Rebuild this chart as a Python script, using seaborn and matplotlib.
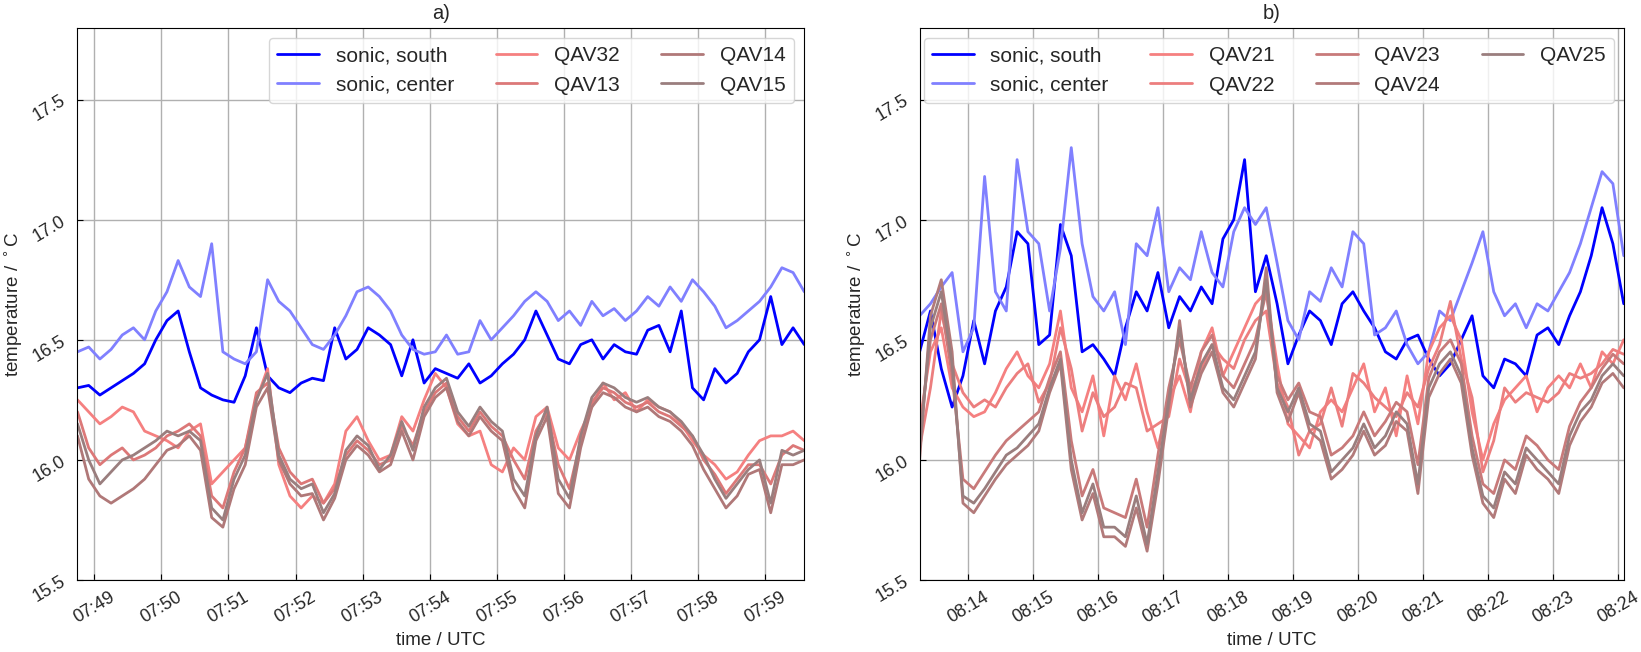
"""Sonic vs. QAV temperature time series, two periods side by side"""

import matplotlib
matplotlib.use("Agg")
from matplotlib import pyplot as plt
import matplotlib.dates as mdates
import pandas as pd
import seaborn as sns

# ---- data (10 s samples) ----
left_start = "2020-01-01 07:48:45"
right_start = "2020-01-01 08:13:15"

left_sonic_south = [
    16.30, 16.31, 16.27, 16.30, 16.33, 16.36, 16.40, 16.50, 16.58, 16.62, 16.45, 16.30, 16.27, 16.25, 16.24, 16.35, 16.55, 16.35, 16.30, 16.28, 16.32, 16.34,
    16.33, 16.55, 16.42, 16.46, 16.55, 16.52, 16.48, 16.35, 16.50, 16.32, 16.38, 16.36, 16.34, 16.40, 16.32, 16.35, 16.40, 16.44, 16.50, 16.62, 16.52,
    16.42, 16.40, 16.48, 16.50, 16.42, 16.48, 16.45, 16.44, 16.54, 16.56, 16.45, 16.62, 16.30, 16.25, 16.38, 16.32, 16.36, 16.45, 16.50, 16.68, 16.48,
    16.55, 16.48,
]
left_sonic_center = [
    16.45, 16.47, 16.42, 16.46, 16.52, 16.55, 16.50, 16.62, 16.70, 16.83, 16.72, 16.68, 16.90, 16.45, 16.42, 16.40, 16.45, 16.75, 16.66, 16.62, 16.55, 16.48,
    16.46, 16.52, 16.60, 16.70, 16.72, 16.68, 16.62, 16.52, 16.46, 16.44, 16.45, 16.52, 16.44, 16.45, 16.58, 16.50, 16.55, 16.60, 16.66, 16.70, 16.66,
    16.58, 16.62, 16.56, 16.66, 16.60, 16.63, 16.58, 16.62, 16.68, 16.64, 16.72, 16.66, 16.75, 16.70, 16.64, 16.55, 16.58, 16.62, 16.66, 16.72, 16.80,
    16.78, 16.70,
]
left_qav32 = [
    16.25, 16.20, 16.15, 16.18, 16.22, 16.20, 16.12, 16.10, 16.08, 16.05, 16.12, 16.15, 15.90, 15.95, 16.00, 16.05, 16.25, 16.38, 15.98, 15.85, 15.80, 15.85,
    15.82, 15.90, 16.12, 16.18, 16.08, 16.00, 16.02, 16.18, 16.12, 16.25, 16.36, 16.30, 16.15, 16.10, 16.12, 15.98, 15.95, 16.05, 16.00, 16.18, 16.22,
    16.05, 16.00, 16.12, 16.22, 16.32, 16.25, 16.28, 16.20, 16.25, 16.22, 16.20, 16.15, 16.08, 16.02, 15.98, 15.92, 15.95, 16.02, 16.08, 16.10, 16.10,
    16.12, 16.08,
]
left_qav13 = [
    16.20, 16.05, 15.98, 16.02, 16.05, 16.00, 16.02, 16.05, 16.10, 16.12, 16.15, 16.10, 15.85, 15.80, 15.95, 16.05, 16.28, 16.32, 16.05, 15.95, 15.90, 15.92,
    15.82, 15.88, 16.02, 16.08, 16.04, 15.98, 16.00, 16.14, 16.06, 16.20, 16.28, 16.32, 16.18, 16.12, 16.20, 16.14, 16.10, 16.00, 15.92, 16.12, 16.20,
    15.98, 15.88, 16.08, 16.24, 16.30, 16.28, 16.24, 16.22, 16.24, 16.20, 16.18, 16.14, 16.10, 16.00, 15.94, 15.86, 15.92, 15.98, 15.98, 15.90, 16.02,
    16.06, 16.04,
]
left_qav14 = [
    16.10, 15.92, 15.85, 15.82, 15.85, 15.88, 15.92, 15.98, 16.04, 16.06, 16.10, 16.04, 15.76, 15.72, 15.88, 15.98, 16.22, 16.30, 16.00, 15.90, 15.85, 15.86,
    15.75, 15.84, 16.00, 16.06, 16.02, 15.95, 15.98, 16.12, 16.00, 16.18, 16.26, 16.30, 16.16, 16.10, 16.18, 16.12, 16.08, 15.88, 15.80, 16.08, 16.18,
    15.86, 15.80, 16.05, 16.22, 16.28, 16.26, 16.22, 16.20, 16.22, 16.18, 16.16, 16.12, 16.06, 15.96, 15.88, 15.80, 15.85, 15.94, 15.96, 15.78, 15.98,
    15.98, 16.00,
]
left_qav15 = [
    16.15, 16.00, 15.90, 15.95, 16.00, 16.02, 16.05, 16.08, 16.12, 16.10, 16.12, 16.08, 15.80, 15.75, 15.92, 16.02, 16.25, 16.36, 16.02, 15.92, 15.88, 15.90,
    15.78, 15.86, 16.04, 16.10, 16.06, 15.96, 16.02, 16.16, 16.04, 16.22, 16.30, 16.34, 16.20, 16.14, 16.22, 16.16, 16.12, 15.92, 15.85, 16.10, 16.22,
    15.92, 15.84, 16.10, 16.26, 16.32, 16.30, 16.26, 16.24, 16.26, 16.22, 16.20, 16.16, 16.10, 16.02, 15.92, 15.84, 15.90, 15.96, 16.00, 15.82, 16.04,
    16.02, 16.04,
]

right_sonic_south = [
    16.45, 16.62, 16.38, 16.22, 16.35, 16.58, 16.40, 16.62, 16.72, 16.95, 16.90, 16.48, 16.52, 16.98, 16.85, 16.45, 16.48, 16.42,
    16.35, 16.55, 16.70, 16.62, 16.78, 16.55, 16.68, 16.62, 16.72, 16.65, 16.92, 17.00, 17.25, 16.70, 16.85, 16.65, 16.40, 16.52, 16.62, 16.58,
    16.48, 16.65, 16.70, 16.62, 16.55, 16.45, 16.42, 16.50, 16.52, 16.42, 16.35, 16.40, 16.50, 16.60, 16.35, 16.30, 16.42, 16.40, 16.35, 16.52,
    16.55, 16.48, 16.60, 16.70, 16.85, 17.05, 16.90, 16.65,
]
right_sonic_center = [
    16.60, 16.65, 16.72, 16.78, 16.45, 16.55, 17.18, 16.70, 16.62, 17.25, 16.95, 16.90, 16.62, 16.88, 17.30, 16.90, 16.68, 16.62,
    16.70, 16.48, 16.90, 16.85, 17.05, 16.70, 16.80, 16.75, 16.95, 16.78, 16.72, 16.95, 17.05, 16.98, 17.05, 16.82, 16.58, 16.50, 16.70, 16.66,
    16.80, 16.72, 16.95, 16.90, 16.52, 16.55, 16.62, 16.48, 16.40, 16.45, 16.62, 16.58, 16.70, 16.82, 16.95, 16.70, 16.60, 16.65, 16.55, 16.65,
    16.62, 16.70, 16.78, 16.90, 17.05, 17.20, 17.15, 16.85,
]
right_qav21 = [
    16.15, 16.45, 16.55, 16.30, 16.22, 16.18, 16.20, 16.28, 16.38, 16.45, 16.35, 16.30, 16.40, 16.62, 16.30, 16.20, 16.35, 16.10,
    16.35, 16.25, 16.40, 16.20, 16.05, 16.25, 16.35, 16.20, 16.45, 16.55, 16.35, 16.45, 16.55, 16.65, 16.70, 16.40, 16.15, 16.10, 16.05, 16.20,
    16.25, 16.20, 16.30, 16.40, 16.20, 16.30, 16.10, 16.35, 16.15, 16.45, 16.55, 16.60, 16.50, 16.20, 16.00, 16.15, 16.25, 16.30, 16.35, 16.20,
    16.30, 16.35, 16.30, 16.40, 16.30, 16.45, 16.40, 16.50,
]
right_qav22 = [
    16.05, 16.30, 16.62, 16.40, 16.28, 16.22, 16.25, 16.22, 16.30, 16.36, 16.40, 16.24, 16.32, 16.55, 16.38, 16.12, 16.28, 16.18,
    16.22, 16.32, 16.30, 16.12, 16.15, 16.18, 16.42, 16.28, 16.38, 16.48, 16.42, 16.38, 16.50, 16.58, 16.62, 16.32, 16.22, 16.02, 16.12, 16.15,
    16.30, 16.14, 16.36, 16.32, 16.26, 16.22, 16.18, 16.28, 16.22, 16.38, 16.48, 16.66, 16.42, 16.26, 15.95, 16.08, 16.30, 16.24, 16.28, 16.26,
    16.24, 16.28, 16.36, 16.34, 16.36, 16.40, 16.46, 16.44,
]
right_qav23 = [
    16.10, 16.50, 16.65, 16.35, 15.92, 15.88, 15.95, 16.02, 16.08, 16.12, 16.16, 16.20, 16.34, 16.45, 16.08, 15.85, 15.96, 15.80,
    15.78, 15.76, 15.92, 15.72, 16.02, 16.30, 16.50, 16.30, 16.45, 16.52, 16.35, 16.30, 16.40, 16.50, 16.70, 16.35, 16.25, 16.32, 16.20, 16.18,
    16.02, 16.05, 16.10, 16.20, 16.10, 16.16, 16.24, 16.20, 15.98, 16.34, 16.45, 16.50, 16.40, 16.10, 15.90, 15.86, 16.00, 15.96, 16.10, 16.06,
    16.00, 15.96, 16.14, 16.24, 16.30, 16.38, 16.44, 16.40,
]
right_qav24 = [
    16.00, 16.60, 16.75, 16.45, 15.82, 15.78, 15.85, 15.92, 15.98, 16.02, 16.06, 16.12, 16.28, 16.40, 15.96, 15.75, 15.86, 15.68,
    15.68, 15.64, 15.80, 15.62, 15.90, 16.22, 16.58, 16.22, 16.36, 16.45, 16.28, 16.22, 16.32, 16.42, 16.80, 16.28, 16.16, 16.28, 16.12, 16.08,
    15.92, 15.96, 16.02, 16.12, 16.02, 16.06, 16.16, 16.12, 15.86, 16.26, 16.36, 16.42, 16.32, 16.02, 15.82, 15.76, 15.92, 15.86, 16.02, 15.96,
    15.92, 15.86, 16.06, 16.16, 16.22, 16.32, 16.36, 16.30,
]
right_qav25 = [
    16.05, 16.55, 16.70, 16.40, 15.85, 15.82, 15.88, 15.95, 16.02, 16.05, 16.10, 16.15, 16.30, 16.42, 16.00, 15.78, 15.90, 15.72,
    15.72, 15.68, 15.85, 15.65, 15.95, 16.25, 16.55, 16.25, 16.40, 16.48, 16.30, 16.25, 16.35, 16.45, 16.75, 16.30, 16.20, 16.30, 16.15, 16.12,
    15.95, 16.00, 16.05, 16.15, 16.05, 16.10, 16.20, 16.15, 15.90, 16.30, 16.40, 16.45, 16.35, 16.05, 15.85, 15.80, 15.95, 15.90, 16.05, 16.00,
    15.95, 15.90, 16.10, 16.20, 16.25, 16.35, 16.40, 16.35,
]

left_series = {
    "sonic, south": left_sonic_south,
    "sonic, center": left_sonic_center,
    "QAV32": left_qav32,
    "QAV13": left_qav13,
    "QAV14": left_qav14,
    "QAV15": left_qav15,
}
right_series = {
    "sonic, south": right_sonic_south,
    "sonic, center": right_sonic_center,
    "QAV21": right_qav21,
    "QAV22": right_qav22,
    "QAV23": right_qav23,
    "QAV24": right_qav24,
    "QAV25": right_qav25,
}

# line colours, red fading to greyish brown for the QAV stations
left_colors = ["#0000ff", "#8080ff", "#f58080", "#dc7878", "#b07878", "#9a7e7e"]
right_colors = ["#0000ff", "#8080ff", "#f58080", "#ec7e7e", "#c87a7a", "#b27a7a", "#9a7e7e"]


def draw_panel(ax, series, start, colors, xlim, title, ncol):
    for (name, vals), color in zip(series.items(), colors):
        times = pd.date_range(start, periods=len(vals), freq="10s")
        sns.lineplot(x=times, y=vals, ax=ax, color=color, lw=2.0, label=name)

    ax.set_xlim(pd.Timestamp(xlim[0]), pd.Timestamp(xlim[1]))
    ax.set_ylim(15.5, 17.8)
    ax.set_yticks([15.5, 16.0, 16.5, 17.0, 17.5])
    ax.xaxis.set_major_locator(mdates.MinuteLocator())
    ax.xaxis.set_major_formatter(mdates.DateFormatter("%H:%M"))
    ax.grid(True, color="#b0b0b0", lw=1.0)
    ax.tick_params(direction="in", labelsize=13, length=4, color="black")
    ax.tick_params(axis="x", pad=6)
    ax.tick_params(axis="y", pad=9)
    for lab in ax.get_xticklabels():
        lab.set_rotation(31)
        lab.set_ha("center")
    for lab in ax.get_yticklabels():
        lab.set_rotation(31)
        lab.set_ha("right")
        lab.set_va("center")
        lab.set_rotation_mode("anchor")
    ax.set_xlabel("time / UTC", fontsize=13.5)
    ax.set_ylabel(r"temperature / $^\circ$C", fontsize=13.5, labelpad=4)
    ax.set_title(title, fontsize=14.5)
    for sp in ax.spines.values():
        sp.set_color("black")
    ax.legend(loc="upper right", ncol=ncol, fontsize=15)


def main():
    sns.set_style("ticks")
    plt.rcParams["font.family"] = ["Liberation Sans", "DejaVu Sans"]

    fig = plt.figure(figsize=(16.41, 6.52), dpi=100)
    ax_a = fig.add_axes([0.0469, 0.1104, 0.4432, 0.8474])
    ax_b = fig.add_axes([0.5604, 0.1104, 0.4294, 0.8474])

    draw_panel(ax_a, left_series, left_start, left_colors,
               ("2020-01-01 07:48:44.5", "2020-01-01 07:59:35"), "a)", 3)
    draw_panel(ax_b, right_series, right_start, right_colors,
               ("2020-01-01 08:13:15", "2020-01-01 08:24:05.5"), "b)", 4)

    fig.savefig("out.png", dpi=100)


if __name__ == "__main__":
    main()
